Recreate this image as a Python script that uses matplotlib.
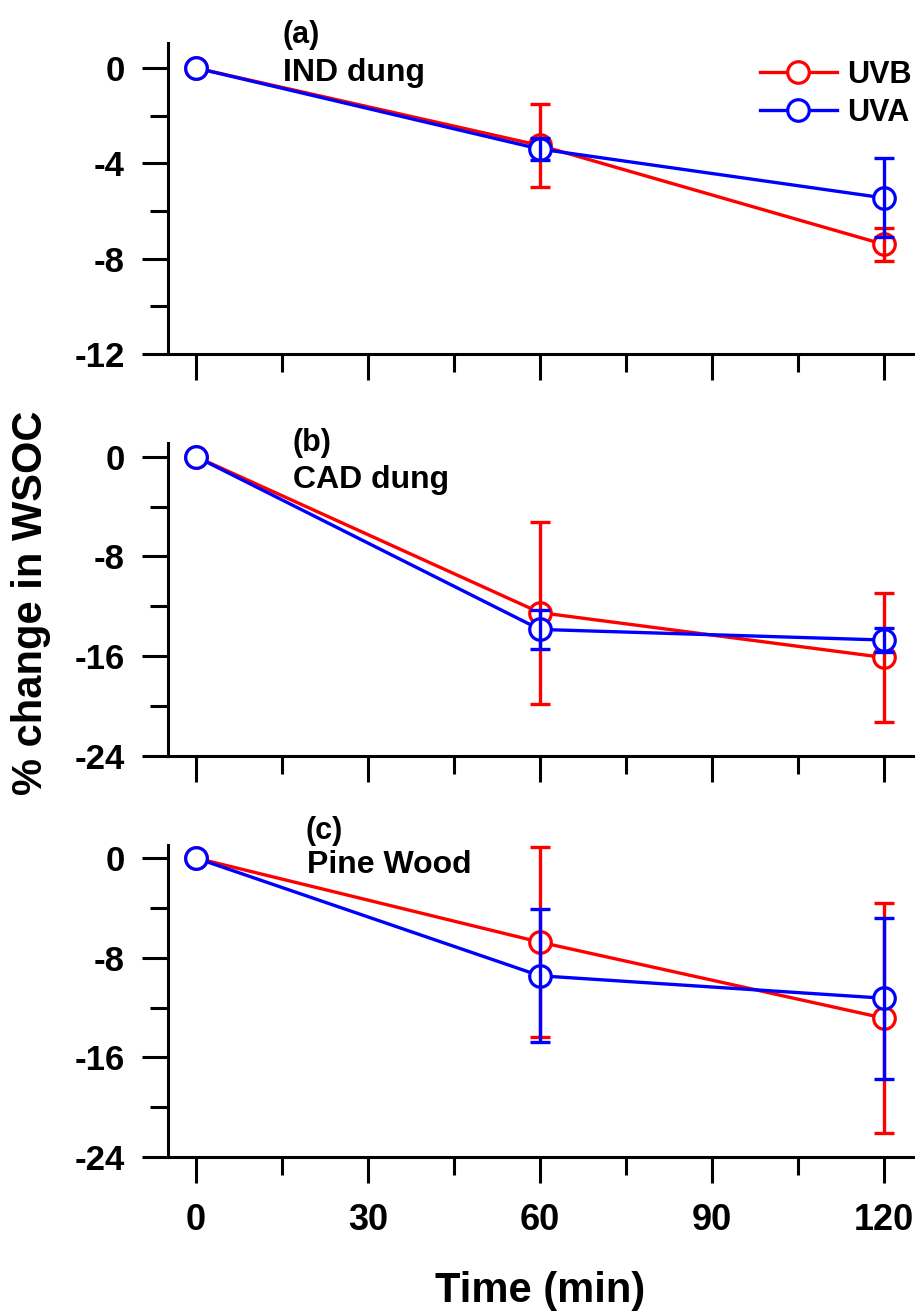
import numpy as np
import matplotlib
matplotlib.use("Agg")
import matplotlib.pyplot as plt
from matplotlib.ticker import MultipleLocator

plt.rcParams['font.family'] = ['Liberation Sans', 'DejaVu Sans']
plt.rcParams['font.weight'] = 'bold'
plt.rcParams['axes.unicode_minus'] = False

time = np.array([0, 60, 120])

# panel (a) IND dung
a_uvb = np.array([0, -3.25, -7.4])
a_uvb_err = np.array([0, 1.75, 0.7])
a_uva = np.array([0, -3.4, -5.45])
a_uva_err = np.array([0, 0.47, 1.66])

# panel (b) CAD dung
b_uvb = np.array([0, -12.5, -16.1])
b_uvb_err = np.array([0, 7.3, 5.2])
b_uva = np.array([0, -13.85, -14.7])
b_uva_err = np.array([0, 1.55, 1.0])

# panel (c) Pine Wood
c_uvb = np.array([0, -6.75, -12.85])
c_uvb_err = np.array([0, 7.65, 9.25])
c_uva = np.array([0, -9.45, -11.25])
c_uva_err = np.array([0, 5.35, 6.45])

panel_tags = ['(a)', '(b)', '(c)']
panel_names = ['IND dung', 'CAD dung', 'Pine Wood']
y_major = [4, 8, 8]
y_lims = [(-12, 1.05), (-24, 1.1), (-24, 1.05)]
x_ticks = [0, 30, 60, 90, 120]

W, H = 922, 1315
fig = plt.figure(figsize=(W / 100, H / 100), dpi=100)

# axes boxes in pixels: left, top, right, bottom
boxes = [(168, 43, 913, 354), (168, 443, 913, 756), (168, 845, 913, 1157)]
# label positions in pixels (left, baseline)
tag_pos = [(283, 43), (292, 451), (305, 839)]
name_pos = [(283, 81), (293, 488), (307, 873)]

series = [
    (a_uvb, a_uvb_err, a_uva, a_uva_err),
    (b_uvb, b_uvb_err, b_uva, b_uva_err),
    (c_uvb, c_uvb_err, c_uva, c_uva_err),
]

lw = 2.4
for i, (l, t, r, b) in enumerate(boxes):
    ax = fig.add_axes([l / W, 1 - b / H, (r - l) / W, (b - t) / H])
    uvb, uvb_e, uva, uva_e = series[i]

    h1, = ax.plot(time, uvb, color='red', lw=lw, marker='o', ms=15.5,
                  mfc='white', mec='red', mew=2.3, zorder=2, label='UVB')
    m = uvb_e > 0
    ax.errorbar(time[m], uvb[m], yerr=uvb_e[m], fmt='none', ecolor='red',
                elinewidth=lw, capsize=7.5, capthick=lw, zorder=2.5)
    h2, = ax.plot(time, uva, color='blue', lw=lw, marker='o', ms=15.5,
                  mfc='white', mec='blue', mew=2.3, zorder=3, label='UVA')
    m = uva_e > 0
    ax.errorbar(time[m], uva[m], yerr=uva_e[m], fmt='none', ecolor='blue',
                elinewidth=lw, capsize=7.5, capthick=lw, zorder=3.5)

    ax.set_xlim(-4.9, 125.1)
    ax.set_ylim(*y_lims[i])
    ax.set_xticks(x_ticks)
    ax.xaxis.set_minor_locator(MultipleLocator(15))
    ax.yaxis.set_major_locator(MultipleLocator(y_major[i]))
    ax.yaxis.set_minor_locator(MultipleLocator(y_major[i] / 2))
    ax.set_yticks(np.arange(y_lims[i][0], 0.1, y_major[i]))

    for s in ['top', 'right']:
        ax.spines[s].set_visible(False)
    for s in ['left', 'bottom']:
        ax.spines[s].set_linewidth(2.2)

    ax.tick_params(which='major', direction='out', length=19, width=2.2)
    ax.tick_params(which='minor', direction='out', length=13, width=2.2)
    ax.tick_params(axis='y', which='major', labelsize=25, pad=12)
    ax.tick_params(axis='x', which='major', labelsize=26, pad=14)
    for lab in ax.get_xticklabels() + ax.get_yticklabels():
        lab.set_fontweight('bold')
    if i < 2:
        ax.set_xticklabels([])

    fig.text(tag_pos[i][0] / W, 1 - tag_pos[i][1] / H, panel_tags[i],
             fontsize=22, fontweight='bold', ha='left', va='baseline')
    fig.text(name_pos[i][0] / W, 1 - name_pos[i][1] / H, panel_names[i],
             fontsize=23, fontweight='bold', ha='left', va='baseline')

    if i == 0:
        ax.legend(handles=[h1, h2], loc='upper left',
                  bbox_to_anchor=(0.795, 0.945), frameon=False,
                  handlelength=2.5, handletextpad=0.35,
                  borderpad=0, borderaxespad=0, labelspacing=0.25,
                  prop={'weight': 'bold', 'size': 22})

fig.text(540 / W, 1 - 1302 / H, 'Time (min)', fontsize=30,
         fontweight='bold', ha='center', va='baseline')
fig.text(31 / W, 1 - 603 / H, '% change in WSOC', fontsize=30,
         fontweight='bold', rotation=90, ha='center', va='center')

fig.savefig('out.png', dpi=100)
